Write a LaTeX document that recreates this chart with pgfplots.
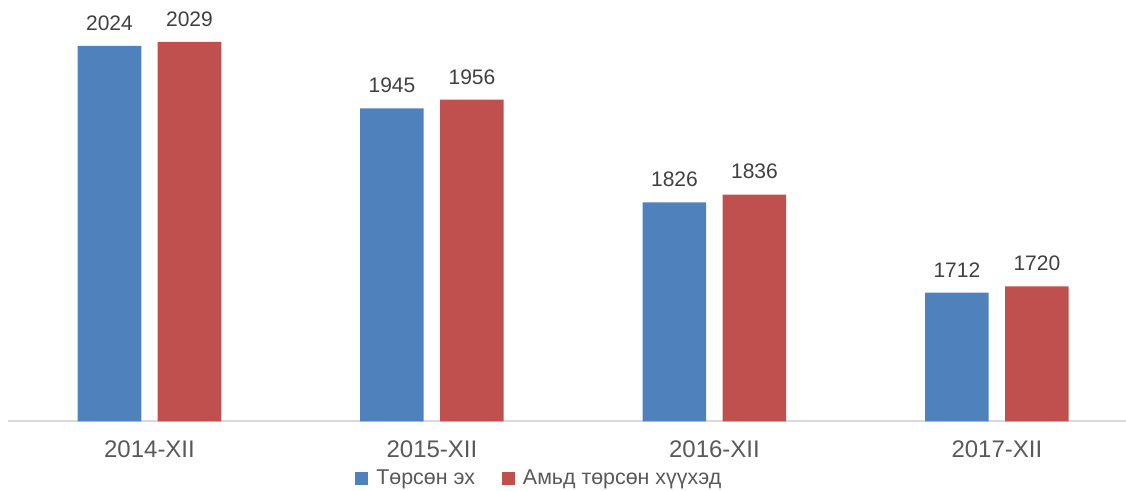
\documentclass[border=0pt]{standalone}
\usepackage{fontspec}
\setmainfont{Liberation Sans}
\usepackage{pgfplots}
\pgfplotsset{compat=1.18}
\definecolor{serA}{HTML}{4F81BD}
\definecolor{serB}{HTML}{C0504D}
\definecolor{lbl}{HTML}{595959}
\definecolor{val}{HTML}{404040}
\definecolor{baseln}{HTML}{D9D9D9}

\begin{document}
\begin{tikzpicture}
\begin{axis}[
    scale only axis,
    width=558.9pt, height=210.75pt,
    xmin=-0.5, xmax=3.457,
    ymin=1549, ymax=2082,
    enlargelimits=false,
    axis x line=bottom, axis y line=none,
    axis line style={baseln, line width=1pt, -},
    ytick=\empty,
    xtick={0,1,2,3},
    xticklabels={2014-XII,2015-XII,2016-XII,2017-XII},
    major tick length=0pt,
    xticklabel style={font=\fontsize{12}{14}\selectfont, text=lbl, anchor=center, yshift=-13.85pt},
    ybar, bar width=0.225,
    nodes near coords={\pgfmathprintnumber[1000 sep={},assume math mode=true]{\pgfplotspointmeta}},
    every node near coord/.append style={font=\fontsize{10.5}{12}\selectfont, text=val, anchor=south, inner sep=0pt, yshift=7.5pt},
    clip=false,
    legend columns=2,
    legend style={at={(0.3102,-0.1364)}, anchor=west, draw=none, fill=none, inner sep=0pt,
        font=\fontsize{10.7}{12}\selectfont, text=lbl,
        nodes={inner sep=0pt},
        /tikz/every odd column/.append style={column sep=4pt},
        /tikz/every even column/.append style={column sep=13.5pt}},
]
% Төрсөн эх
\addplot[fill=serA, draw=none, bar shift=-0.1416,
    legend image code/.code={\fill[serA] (0pt,-3.25pt) rectangle (6.5pt,3.25pt);}]
    coordinates {(0,2024) (1,1945) (2,1826) (3,1712)};
% Амьд төрсөн хүүхэд
\addplot[fill=serB, draw=none, bar shift=0.1416,
    legend image code/.code={\fill[serB] (0pt,-3.25pt) rectangle (6.5pt,3.25pt);}]
    coordinates {(0,2029) (1,1956) (2,1836) (3,1720)};
\legend{Төрсөн эх, Амьд төрсөн хүүхэд}
\end{axis}
\pgfresetboundingbox
\path[use as bounding box] ([shift={(-4.125pt,-34.75pt)}]current axis.south west) rectangle (current axis.north east);
\end{tikzpicture}
\end{document}
